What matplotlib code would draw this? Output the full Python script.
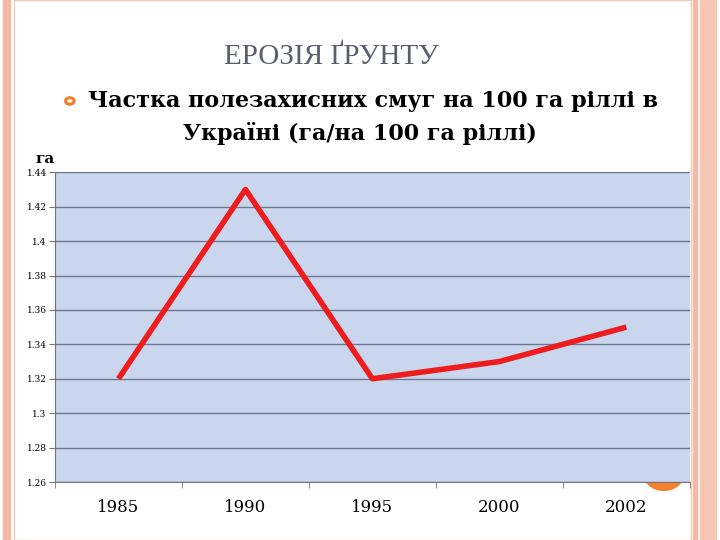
import matplotlib
matplotlib.use("Agg")
import matplotlib.pyplot as plt
from matplotlib.patches import Rectangle, Circle

years = ["1985", "1990", "1995", "2000", "2002"]
values = [1.32, 1.43, 1.32, 1.33, 1.35]
yticks = [1.26, 1.28, 1.3, 1.32, 1.34, 1.36, 1.38, 1.4, 1.42, 1.44]
ytick_labels = ["1.26", "1.28", "1.3", "1.32", "1.34", "1.36", "1.38", "1.4", "1.42", "1.44"]

fig = plt.figure(figsize=(7.2, 5.4), dpi=100)
fig.patch.set_facecolor("white")
for x0, w, c in [(0.004, 0.01, "#f4b9a6"), (0.962, 0.006, "#f4b9a6"), (0.972, 0.022, "#f8c6b4")]:
    fig.add_artist(Rectangle((x0, 0), w, 1, transform=fig.transFigure, color=c, zorder=0))
fig.add_artist(Rectangle((0.02, 0), 0.94, 1, transform=fig.transFigure, fill=False,
                         edgecolor="#f4c9b8", lw=1, zorder=0))

fig.text(0.46, 0.895, "ЕРОЗІЯ ҐРУНТУ", ha="center", va="center", fontsize=21,
         color="#5a5f6b", family="Liberation Serif")
fig.add_artist(Circle((0.097, 0.813), 0.006, transform=fig.transFigure, fill=False,
                      edgecolor="#f07f2b", lw=2.2))
fig.text(0.122, 0.813, "Частка полезахисних смуг на 100 га ріллі в", ha="left", va="center",
         fontsize=16, fontweight="bold", family="DejaVu Serif", color="black")
fig.text(0.5, 0.752, "Україні (га/на 100 га ріллі)", ha="center", va="center",
         fontsize=16, fontweight="bold", family="DejaVu Serif", color="black")
fig.text(0.05, 0.705, "га", ha="left", va="center", fontsize=11, fontweight="bold",
         family="DejaVu Serif")

# decorative orange circle, partly behind the plot area
fig.add_artist(Circle((0.922, 0.118), 0.026, transform=fig.transFigure, color="#f4802c", zorder=0.5))

ax = fig.add_axes([0.0764, 0.1074, 0.8816, 0.5736])
ax.set_zorder(1)
ax.set_facecolor("#c9d6ee")
x = list(range(len(years)))
ax.plot(x, values, color="#ee1c1c", lw=4, solid_capstyle="butt", zorder=3)
ax.set_xlim(-0.5, 4.5)
ax.set_ylim(1.26, 1.44)
ax.set_yticks(yticks)
ax.set_yticklabels(ytick_labels, fontsize=6.5, family="DejaVu Serif")
ax.set_xticks(x)
ax.set_xticklabels(years, fontsize=12, family="DejaVu Serif")
ax.set_xticks([-0.5, 0.5, 1.5, 2.5, 3.5, 4.5], minor=True)
ax.tick_params(axis="x", which="major", length=0, pad=12)
ax.tick_params(axis="x", which="minor", length=4, color="#777777")
ax.tick_params(axis="y", length=4, color="#777777", pad=2)
ax.grid(axis="y", color="#6b7a90", lw=1)
ax.set_axisbelow(True)
for s in ["top", "right"]:
    ax.spines[s].set_visible(False)
for s in ["left", "bottom"]:
    ax.spines[s].set_color("#777777")

fig.savefig("out.png", dpi=100)
